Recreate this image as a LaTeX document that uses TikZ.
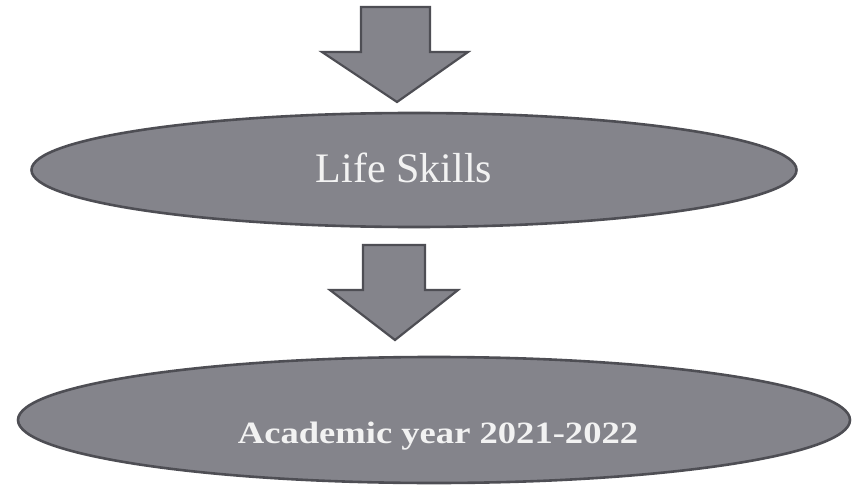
\documentclass[tikz,border=0pt]{standalone}
\usepackage{fontspec}
\setmainfont{Liberation Serif}
\usetikzlibrary{shapes.geometric}
\definecolor{shapefill}{RGB}{132,132,139}
\definecolor{shapeline}{RGB}{78,78,84}
\definecolor{txt}{RGB}{242,242,242}
\tikzset{
  blob/.style={ellipse, draw=shapeline, line width=2.6pt, fill=shapefill, inner sep=0pt},
  blockarrow/.style={draw=shapeline, line width=2.2pt, fill=shapefill, line join=miter},
  lbl/.style={text=txt, inner sep=0pt, anchor=base}
}
\begin{document}
\begin{tikzpicture}[x=1pt,y=-1pt]
\useasboundingbox[fill=white] (0,0) rectangle (852,487);
% top arrow
\draw[blockarrow] (361,7) -- (430,7) -- (430,52) -- (468,52) -- (397,102) -- (322,52) -- (361,52) -- cycle;
% ellipse 1
\node[blob, minimum width=765pt, minimum height=114pt] (life) at (414,170) {};
\node[lbl, font=\fontsize{42}{42}\selectfont] (lifet) at (404,182) {Life Skills};
% middle arrow
\draw[blockarrow] (363,245) -- (425,245) -- (425,290) -- (458,290) -- (395,340) -- (330,290) -- (363,290) -- cycle;
% ellipse 2
\node[blob, minimum width=832pt, minimum height=126pt] (year) at (434,420) {};
\node[lbl, font=\fontsize{31}{31}\bfseries] (yeart) at (438,443) {\scalebox{1.18}[1]{Academic year 2021-2022}};
\end{tikzpicture}
\end{document}
